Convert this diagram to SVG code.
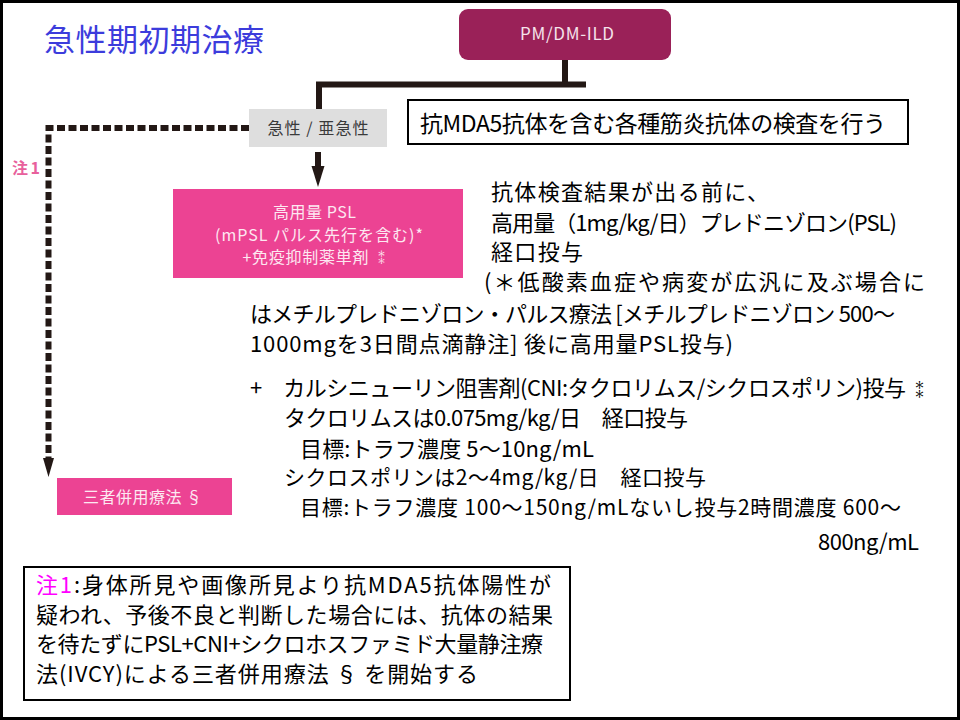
<svg xmlns="http://www.w3.org/2000/svg" width="960" height="720" viewBox="0 0 960 720">
<style>
  .jp { font-family: "Noto Sans CJK JP", "DejaVu Sans", sans-serif; }
  .body { font-size: 22px; fill: #000; }
  .wt { fill: #fde8f1; font-size: 16px; }
  .conn { fill: none; stroke: #231815; stroke-width: 6; }
  .dash { fill: none; stroke: #231815; stroke-width: 6; stroke-dasharray: 8 3.5; }
</style>
<rect x="0" y="0" width="960" height="720" fill="#fff"/>
<rect x="1.5" y="1.5" width="957" height="717" fill="none" stroke="#000" stroke-width="3"/>

<text class="jp" x="44" y="51" font-size="31" fill="#3c3cdc" textLength="220" lengthAdjust="spacing">急性期初期治療</text>

<g id="connectors">
  <path class="conn" d="M565 60 V84.5 M586 84.5 H319 V109" stroke-width="5"/>
  <line class="conn" x1="318" y1="152" x2="318" y2="168"/>
  <polygon points="311.5,166 324.5,166 318,187" fill="#231815"/>
  <path class="dash" d="M249 128 H48.5 V460"/>
  <polygon points="43,458 54,458 48.5,477" fill="#231815"/>
  <text class="jp" x="12" y="174" font-size="16" font-weight="bold" fill="#e8609c" textLength="28" lengthAdjust="spacing">注 1</text>
</g>

<g id="pm-dm-ild">
  <rect x="459" y="9" width="212" height="51" rx="9" fill="#9a2158"/>
  <text class="jp" x="567" y="40" font-size="17" fill="#f5e3eb" text-anchor="middle" textLength="94" lengthAdjust="spacing">PM/DM-ILD</text>
</g>

<g id="acute">
  <rect x="249" y="109" width="138" height="38" fill="#dedede"/>
  <text class="jp" x="318" y="134" font-size="16" fill="#3a3a3a" text-anchor="middle" textLength="101" lengthAdjust="spacing">急性 / 亜急性</text>
</g>

<g id="antibody-test">
  <rect x="408" y="100" width="500" height="44" fill="#fff" stroke="#000" stroke-width="2"/>
  <text class="jp" x="420" y="132" font-size="23" fill="#000" textLength="466" lengthAdjust="spacing">抗MDA5抗体を含む各種筋炎抗体の検査を行う</text>
</g>

<g id="high-dose-psl">
  <rect x="173" y="189" width="290" height="89" fill="#ec4393"/>
  <text class="jp wt" x="314.5" y="218" text-anchor="middle" font-size="17" textLength="83" lengthAdjust="spacing">高用量 PSL</text>
  <text class="jp wt" x="319" y="241" text-anchor="middle" textLength="208" lengthAdjust="spacing">(mPSL パルス先行を含む)*</text>
  <text class="jp wt" x="316" y="263" text-anchor="middle" textLength="147" lengthAdjust="spacing">+免疫抑制薬単剤 ⁑</text>
</g>

<g id="triple-therapy">
  <rect x="57" y="478" width="175" height="37" fill="#ec4393"/>
  <text class="jp wt" x="142.5" y="503" text-anchor="middle" font-size="17" textLength="119" lengthAdjust="spacing">三者併用療法 §</text>
</g>

<g id="explanation" class="jp body">
  <text x="491" y="200" textLength="278" lengthAdjust="spacing">抗体検査結果が出る前に、</text>
  <text x="491" y="231" textLength="406" lengthAdjust="spacing">高用量（1mg/kg/日）プレドニゾロン(PSL)</text>
  <text x="491" y="260" textLength="92" lengthAdjust="spacing">経口投与</text>
  <text x="484" y="290" textLength="441" lengthAdjust="spacing">(＊低酸素血症や病変が広汎に及ぶ場合に</text>
  <text x="250" y="322" textLength="645" lengthAdjust="spacing">はメチルプレドニゾロン・パルス療法 [メチルプレドニゾロン 500〜</text>
  <text x="250" y="352" textLength="483" lengthAdjust="spacing">1000mgを3日間点滴静注] 後に高用量PSL投与)</text>
  <text x="250" y="396" textLength="656" lengthAdjust="spacing">+　カルシニューリン阻害剤(CNI:タクロリムス/シクロスポリン)投与</text>
  <text x="919.5" y="397" font-size="20" text-anchor="middle">⁑</text>
  <text x="284" y="426" textLength="404" lengthAdjust="spacing">タクロリムスは0.075mg/kg/日　経口投与</text>
  <text x="300" y="457" textLength="294" lengthAdjust="spacing">目標:トラフ濃度 5〜10ng/mL</text>
  <text x="284" y="485" font-size="21" textLength="422" lengthAdjust="spacing">シクロスポリンは2〜4mg/kg/日　経口投与</text>
  <text x="300" y="515" font-size="21" textLength="601" lengthAdjust="spacing">目標:トラフ濃度 100〜150ng/mLないし投与2時間濃度 600〜</text>
  <text x="818" y="550" textLength="101" lengthAdjust="spacing">800ng/mL</text>
</g>

<g id="note1">
  <rect x="24" y="567" width="546" height="133" fill="#fff" stroke="#000" stroke-width="2"/>
  <g class="jp body" font-size="21">
    <text x="36" y="593" textLength="515" lengthAdjust="spacing"><tspan fill="#ff00ff">注1</tspan>:身体所見や画像所見より抗MDA5抗体陽性が</text>
    <text x="36" y="623" textLength="517" lengthAdjust="spacing">疑われ、予後不良と判断した場合には、抗体の結果</text>
    <text x="36" y="652" textLength="507" lengthAdjust="spacing">を待たずにPSL+CNI+シクロホスファミド大量静注療</text>
    <text x="36" y="682" textLength="442" lengthAdjust="spacing">法(IVCY)による三者併用療法 § を開始する</text>
  </g>
</g>
</svg>
